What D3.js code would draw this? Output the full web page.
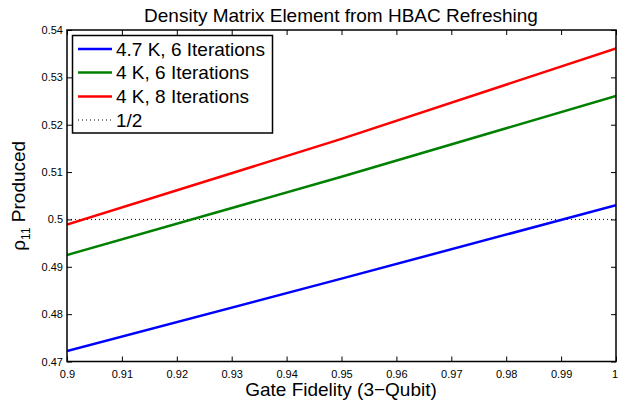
<!DOCTYPE html>
<html>
<head>
<meta charset="utf-8">
<script src="https://cdn.jsdelivr.net/npm/d3@7/dist/d3.min.js"></script>
<style>
  html, body { margin: 0; padding: 0; background: #fff; }
  svg { display: block; font-family: "Liberation Sans", Arial, sans-serif; }
</style>
</head>
<body>
<svg id="chart" width="618" height="411"></svg>
<script>
// Gate fidelity sample points and produced rho_11 for each refreshing setup
const fidelity = [0.90, 0.95, 1.00];
const rhoBlue  = [0.4722, 0.4875, 0.5030];   // 4.7 K, 6 iterations
const rhoGreen = [0.4925, 0.5090, 0.5261];   // 4 K, 6 iterations
const rhoRed   = [0.4989, 0.5170, 0.5361];   // 4 K, 8 iterations
const half = 0.5;

const seriesNames  = ["4.7 K, 6 Iterations", "4 K, 6 Iterations", "4 K, 8 Iterations", "1/2"];
const xTickValues  = [0.9, 0.91, 0.92, 0.93, 0.94, 0.95, 0.96, 0.97, 0.98, 0.99, 1];
const yTickValues  = [0.47, 0.48, 0.49, 0.5, 0.51, 0.52, 0.53, 0.54];

const svg = d3.select("#chart");
const plot = { left: 67, right: 616, top: 30, bottom: 361.5 };

const x = d3.scaleLinear().domain([0.9, 1]).range([plot.left, plot.right]);
const y = d3.scaleLinear().domain([0.47, 0.54]).range([plot.bottom, plot.top]);

const fmt = d => String(+d.toFixed(2));

// clip lines to the axes box
svg.append("clipPath").attr("id", "clip")
  .append("rect")
  .attr("x", plot.left).attr("y", plot.top)
  .attr("width", plot.right - plot.left).attr("height", plot.bottom - plot.top);

const tickLen = 5;

// bottom axis with labels, ticks pointing inward
const xAxis = svg.append("g")
  .attr("transform", `translate(0,${plot.bottom})`)
  .call(d3.axisBottom(x).tickValues(xTickValues).tickFormat(fmt).tickSizeInner(-tickLen).tickSizeOuter(0).tickPadding(9));
// top axis ticks only
const xAxisTop = svg.append("g")
  .attr("transform", `translate(0,${plot.top})`)
  .call(d3.axisTop(x).tickValues(xTickValues).tickFormat("").tickSizeInner(-tickLen).tickSizeOuter(0));
// left axis with labels
const yAxis = svg.append("g")
  .attr("transform", `translate(${plot.left},0)`)
  .call(d3.axisLeft(y).tickValues(yTickValues).tickFormat(fmt).tickSizeInner(-tickLen).tickSizeOuter(0).tickPadding(4));
// right axis ticks only
const yAxisRight = svg.append("g")
  .attr("transform", `translate(${plot.right},0)`)
  .call(d3.axisRight(y).tickValues(yTickValues).tickFormat("").tickSizeInner(-tickLen).tickSizeOuter(0));

[xAxis, xAxisTop, yAxis, yAxisRight].forEach(g => {
  g.select(".domain").remove();
  g.selectAll(".tick line").attr("stroke", "#000").attr("stroke-width", 1);
  g.selectAll(".tick text")
    .attr("fill", "#000")
    .style("font-family", "'Liberation Sans', Arial, sans-serif")
    .style("font-size", "11px");
});
// keep the last x label inside the window edge
xAxis.selectAll(".tick text").filter(d => d === 1).attr("dx", -1.5);

// data lines
const line = d3.line().x((d, i) => x(fidelity[i])).y(d => y(d));
const lines = svg.append("g").attr("clip-path", "url(#clip)");

lines.append("path")
  .datum(fidelity.map(() => half))
  .attr("d", line)
  .attr("fill", "none").attr("stroke", "#000").attr("stroke-width", 1)
  .attr("stroke-dasharray", "1,3");

const series = [
  { values: rhoBlue,  color: "#0000ff" },
  { values: rhoGreen, color: "#008000" },
  { values: rhoRed,   color: "#ff0000" }
];
series.forEach(s => {
  lines.append("path")
    .datum(s.values)
    .attr("d", line)
    .attr("fill", "none").attr("stroke", s.color).attr("stroke-width", 2.5)
    .attr("stroke-linejoin", "round");
});

// axes box
svg.append("rect")
  .attr("x", plot.left).attr("y", plot.top)
  .attr("width", plot.right - plot.left).attr("height", plot.bottom - plot.top)
  .attr("fill", "none").attr("stroke", "#000").attr("stroke-width", 1.5);

// legend
const legend = svg.append("g");
legend.append("rect")
  .attr("x", 72.5).attr("y", 35.5).attr("width", 200).attr("height", 97.5)
  .attr("fill", "#fff").attr("stroke", "#000").attr("stroke-width", 1.5);
const legendColors = ["#0000ff", "#008000", "#ff0000", "#000"];
const rowY = [49, 72.5, 96.5, 120];
seriesNames.forEach((name, i) => {
  const ly = rowY[i];
  legend.append("line")
    .attr("x1", 78).attr("x2", 112).attr("y1", ly).attr("y2", ly)
    .attr("stroke", legendColors[i])
    .attr("stroke-width", i < 3 ? 2.5 : 1)
    .attr("stroke-dasharray", i < 3 ? null : "1,3");
  legend.append("text")
    .attr("x", 116).attr("y", ly + 6.5)
    .attr("font-size", "19px").attr("fill", "#000")
    .text(name);
});

// title
svg.append("text")
  .attr("x", 341).attr("y", 22)
  .attr("text-anchor", "middle").attr("font-size", "19px")
  .text("Density Matrix Element from HBAC Refreshing");

// x label
svg.append("text")
  .attr("x", 341).attr("y", 396)
  .attr("text-anchor", "middle").attr("font-size", "19px")
  .text("Gate Fidelity (3\u2212Qubit)");

// y label with subscript
const yl = svg.append("text")
  .attr("transform", `translate(25,${(plot.top + plot.bottom) / 2}) rotate(-90)`)
  .attr("text-anchor", "middle").attr("font-size", "19px");
yl.append("tspan").text("\u03C1");
yl.append("tspan").attr("font-size", "12px").attr("dy", 5).text("11");
yl.append("tspan").attr("dy", -5).text(" Produced");
</script>
</body>
</html>
